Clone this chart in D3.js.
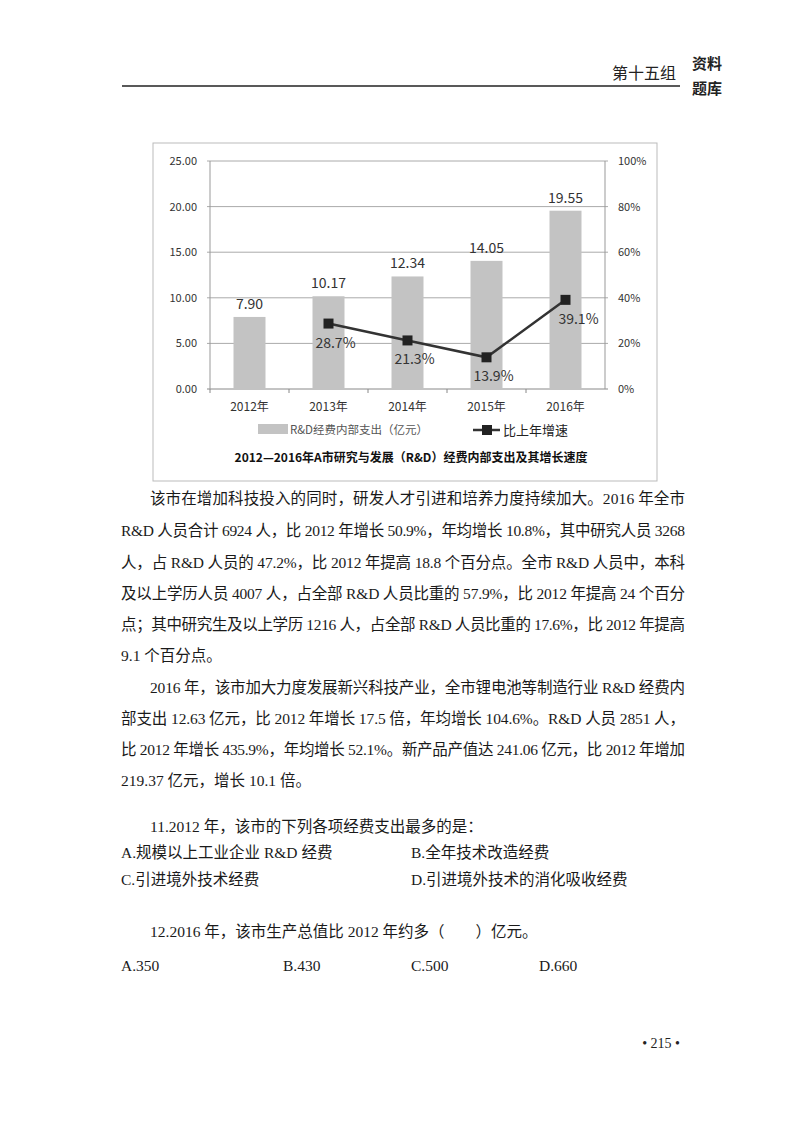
<!DOCTYPE html><html><head><meta charset="utf-8">
<script src="https://cdn.jsdelivr.net/npm/d3@7"></script>
<style>body{margin:0;background:#fff}</style></head><body>
<svg id="page" width="800" height="1130"></svg>
<script>
const categories=["2012年","2013年","2014年","2015年","2016年"];
const spending=[7.90,10.17,12.34,14.05,19.55];
const growth=[null,28.7,21.3,13.9,39.1];
const leftTicks=[0,5,10,15,20,25];
const rightTicks=[0,20,40,60,80,100];

const svg=d3.select("#page");
const serif='"Liberation Serif","Noto Sans CJK SC",serif';
const sans='"Noto Sans CJK SC","DejaVu Sans",sans-serif';
// header
svg.append("line").attr("x1",122).attr("x2",680).attr("y1",86).attr("y2",86).attr("stroke","#222").attr("stroke-width",1.5);
svg.append("text").attr("x",676).attr("y",79).attr("text-anchor","end").attr("font-family",sans).attr("font-size",16).attr("fill","#222").text("第十五组");
svg.append("text").attr("x",692).attr("y",69).attr("font-family",sans).attr("font-weight","bold").attr("font-size",15).attr("fill","#222").text("资料");
svg.append("text").attr("x",692).attr("y",94).attr("font-family",sans).attr("font-weight","bold").attr("font-size",15).attr("fill","#222").text("题库");

// chart box
svg.append("rect").attr("x",153).attr("y",143).attr("width",504).attr("height",338).attr("fill","#fff").attr("stroke","#bbb");
const x=d3.scaleBand().domain(categories).range([210,605]);
const yL=d3.scaleLinear().domain([0,25]).range([389,161]);
const yR=d3.scaleLinear().domain([0,100]).range([389,161]);
const g=svg.append("g").attr("font-family",sans).attr("fill","#333");
leftTicks.forEach(t=>{
  g.append("line").attr("x1",207).attr("x2",608).attr("y1",yL(t)).attr("y2",yL(t)).attr("stroke",t===0?"#888":"#aaa");
  g.append("text").attr("x",197).attr("y",yL(t)+4).attr("text-anchor","end").attr("font-size",11).text(t.toFixed(2));
});
rightTicks.forEach(t=>{
  g.append("text").attr("x",618).attr("y",yR(t)+4).attr("font-size",11).text(t+"%");
});
g.append("line").attr("x1",210).attr("x2",210).attr("y1",161).attr("y2",389).attr("stroke","#999");
g.append("line").attr("x1",605).attr("x2",605).attr("y1",161).attr("y2",389).attr("stroke","#999");
categories.forEach((c,i)=>{
  g.append("line").attr("x1",x(c)).attr("x2",x(c)).attr("y1",389).attr("y2",393).attr("stroke","#888");
  g.append("text").attr("x",x(c)+x.bandwidth()/2).attr("y",411).attr("text-anchor","middle").attr("font-size",12).text(c);
});
const bw=32;
g.selectAll("rect.bar").data(spending).join("rect").attr("x",(d,i)=>x(categories[i])+x.bandwidth()/2-bw/2)
 .attr("y",d=>yL(d)).attr("width",bw).attr("height",d=>389-yL(d)).attr("fill","#c3c3c3");
g.selectAll("text.v").data(spending).join("text").attr("x",(d,i)=>x(categories[i])+x.bandwidth()/2).attr("y",d=>yL(d)-8)
 .attr("text-anchor","middle").attr("font-size",14).text(d=>d.toFixed(2));
const pts=growth.map((v,i)=>({v,c:categories[i]})).filter(d=>d.v!==null);
const cx=d=>x(d.c)+x.bandwidth()/2;
g.append("path").attr("d",d3.line().x(cx).y(d=>yR(d.v))(pts)).attr("fill","none").attr("stroke","#333").attr("stroke-width",2.5);
g.selectAll("rect.m").data(pts).join("rect").attr("x",d=>cx(d)-5).attr("y",d=>yR(d.v)-5).attr("width",10).attr("height",10).attr("fill","#222");
g.selectAll("text.p").data(pts).join("text").attr("x",d=>cx(d)+(d.c==="2016年"?13:7)).attr("y",d=>yR(d.v)+24)
 .attr("text-anchor","middle").attr("font-size",14).text(d=>d.v.toFixed(1)+"%");
// legend
g.append("rect").attr("x",258).attr("y",424).attr("width",30).attr("height",10).attr("fill","#c3c3c3");
g.append("text").attr("x",290).attr("y",434).attr("font-size",11.5).attr("fill","#555").text("R&D经费内部支出（亿元）");
g.append("line").attr("x1",473).attr("x2",500).attr("y1",430).attr("y2",430).attr("stroke","#333").attr("stroke-width",2.5);
g.append("rect").attr("x",482).attr("y",425).attr("width",10).attr("height",10).attr("fill","#222");
g.append("text").attr("x",503).attr("y",435).attr("font-size",13).attr("fill","#222").text("比上年增速");
g.append("text").attr("x",411).attr("y",462).attr("text-anchor","middle").attr("font-size",12).attr("font-weight","bold").attr("fill","#111")
 .text("2012—2016年A市研究与发展（R&D）经费内部支出及其增长速度");

// body text
const lines=[
 [150,504,"该市在增加科技投入的同时，研发人才引进和培养力度持续加大。2016 年全市",true],
 [121,536,"R&D 人员合计 6924 人，比 2012 年增长 50.9%，年均增长 10.8%，其中研究人员 3268",true],
 [121,568,"人，占 R&D 人员的 47.2%，比 2012 年提高 18.8 个百分点。全市 R&D 人员中，本科",true],
 [121,599,"及以上学历人员 4007 人，占全部 R&D 人员比重的 57.9%，比 2012 年提高 24 个百分",true],
 [121,630,"点；其中研究生及以上学历 1216 人，占全部 R&D 人员比重的 17.6%，比 2012 年提高",true],
 [121,661,"9.1 个百分点。",false],
 [150,693,"2016 年，该市加大力度发展新兴科技产业，全市锂电池等制造行业 R&D 经费内",true],
 [121,724,"部支出 12.63 亿元，比 2012 年增长 17.5 倍，年均增长 104.6%。R&D 人员 2851 人，",true],
 [121,755,"比 2012 年增长 435.9%，年均增长 52.1%。新产品产值达 241.06 亿元，比 2012 年增加",true],
 [121,786,"219.37 亿元，增长 10.1 倍。",false],
 [150,832,"11.2012 年，该市的下列各项经费支出最多的是：",false],
 [121,858,"A.规模以上工业企业 R&D 经费",false],[411,858,"B.全年技术改造经费",false],
 [121,885,"C.引进境外技术经费",false],[411,885,"D.引进境外技术的消化吸收经费",false],
 [150,937,"12.2016 年，该市生产总值比 2012 年约多（　　）亿元。",false],
 [121,971,"A.350",false],[283,971,"B.430",false],[411,971,"C.500",false],[539,971,"D.660",false],
];
const tg=svg.append("g").attr("font-family",serif).attr("font-size",15.5).attr("fill","#1a1a1a");
lines.forEach(([lx,ly,s,j])=>{
  const t=tg.append("text").attr("x",lx).attr("y",ly).text(s);
  if(j) t.attr("textLength",685-lx).attr("lengthAdjust","spacing");
});
svg.append("text").attr("x",680).attr("y",1048).attr("text-anchor","end").attr("font-family",serif).attr("font-size",14).attr("fill","#222").text("• 215 •");
</script></body></html>
